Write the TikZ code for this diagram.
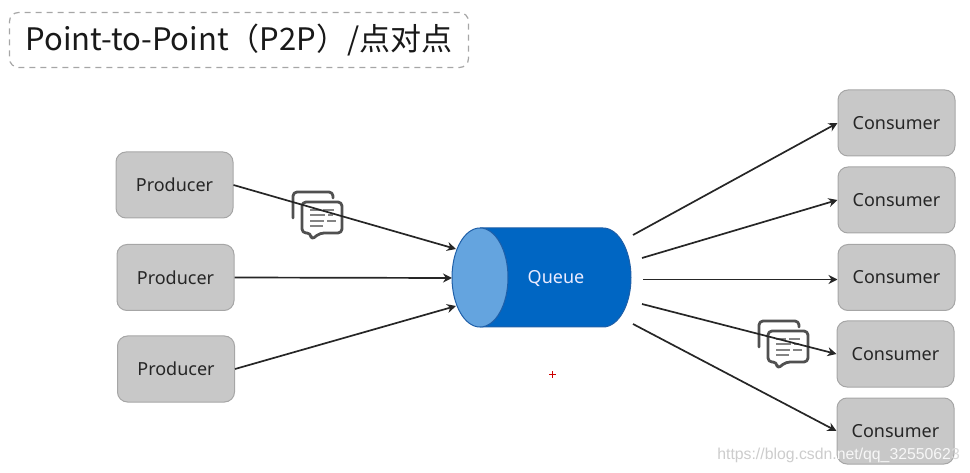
\documentclass[tikz,border=0pt]{standalone}
\usepackage{fontspec}
\setmainfont{Noto Sans}
\newfontfamily\cjkfont{Noto Sans CJK SC}
\newfontfamily\wmfont{Liberation Sans}
\usetikzlibrary{arrows.meta}
\definecolor{boxfill}{HTML}{C8C8C8}
\definecolor{boxline}{HTML}{A6A6A6}
\definecolor{qbody}{HTML}{0066C3}
\definecolor{qface}{HTML}{64A4DF}
\definecolor{qline}{HTML}{1F5FA8}
\definecolor{iconc}{HTML}{505050}
\tikzset{
  x=1pt,y=-1pt,
  compbox/.style={draw=boxline,line width=1pt,fill=boxfill,rounded corners=10pt,minimum width=117pt,minimum height=66pt,inner sep=0pt,font=\fontsize{18}{20}\selectfont,text=black!85},
  flow/.style={draw=black!85,line width=1.7pt,-{Stealth[length=9pt,width=9pt]}},
  iconline/.style={draw=iconc,line width=2.8pt,line join=round,rounded corners=4pt},
  icontext/.style={draw=iconc!70,line width=1.2pt},
}
\newcommand{\chaticon}[2]{%
  \begin{scope}[shift={(#1,#2)}]
    \draw[iconline,line cap=round] (0,26) -- (0,0) -- (40,0) -- (40,6);
    \draw[iconline,fill=white] (9,10) -- (49,10) -- (49,41) -- (27,41) -- (18,48) -- (18,41) -- (9,41) -- cycle;
    \draw[icontext] (17,18) -- (27,18) (30,18) -- (41,18);
    \draw[icontext] (17,23) -- (32,23) (35,23) -- (40,23);
    \draw[icontext] (17,29) -- (31,29) (34,29) -- (43,29);
    \draw[icontext] (17,34) -- (30,34);
  \end{scope}}
\begin{document}
\begin{tikzpicture}
\useasboundingbox (0,0) rectangle (970,473);
% title
\node[draw=black!35,line width=1.2pt,dash pattern=on 6pt off 5pt,rounded corners=9pt,minimum width=459pt,minimum height=55pt,inner sep=0pt,font=\cjkfont\fontsize{31}{36}\selectfont,text=black!90] (title) at (239,40) {Point-to-Point（P2P）/点对点};
% icons
\chaticon{293}{192}
\chaticon{759}{321}
% queue
\fill[qbody] (480,228) -- (603,228) arc[start angle=-90,end angle=90,x radius=28,y radius=49.5] -- (480,327) -- cycle;
\draw[qline,line width=1pt] (480,228) -- (603,228) arc[start angle=-90,end angle=90,x radius=28,y radius=49.5] -- (480,327);
\draw[qline,line width=1pt,fill=qface] (480,277.5) ellipse[x radius=28,y radius=49.5];
\node[text=white!92!blue,font=\fontsize{18}{20}\selectfont,inner sep=0pt] (queue) at (556,279) {Queue};
% boxes
\node[compbox] (p1) at (174.5,185) {Producer};
\node[compbox] (p2) at (175.5,277.5) {Producer};
\node[compbox] (p3) at (176,369) {Producer};
\node[compbox] (c1) at (896.5,123) {Consumer};
\node[compbox] (c2) at (896.5,200) {Consumer};
\node[compbox] (c3) at (896.5,277.5) {Consumer};
\node[compbox] (c4) at (895.5,354) {Consumer};
\node[compbox] (c5) at (895.5,431) {Consumer};
% free ends on the queue side
\coordinate (qi1) at (456,249);
\coordinate (qi2) at (452,278);
\coordinate (qi3) at (456,306);
\coordinate (qo1) at (633,235);
\coordinate (qo2) at (642,258);
\coordinate (qo3) at (643,279.5);
\coordinate (qo4) at (642,304);
\coordinate (qo5) at (633,324);
% connectors
\draw[flow] (p1.east) -- (qi1);
\draw[flow] (p2.east) -- (qi2);
\draw[flow] (p3.east) -- (qi3);
\draw[flow] (qo1) -- (c1.west);
\draw[flow] (qo2) -- (c2.west);
\draw[flow] (qo3) -- (c3.west |- qo3);
\draw[flow] (qo4) -- (c4.west);
\draw[flow] (qo5) -- (c5.west);
% red cursor mark
\draw[red!80!black,line width=1pt] (549,374) -- (555.5,374) (552.2,371) -- (552.2,377.5);
% watermark
\node[anchor=east,inner sep=0pt,font=\wmfont\fontsize{15.8}{18}\selectfont] (wm) at (960,455) {\textcolor{black!20}{https://blog.csdn.}\textcolor{white!85!boxfill}{net/qq\_3255062}\textcolor{black!15}{3}};
\end{tikzpicture}
\end{document}
